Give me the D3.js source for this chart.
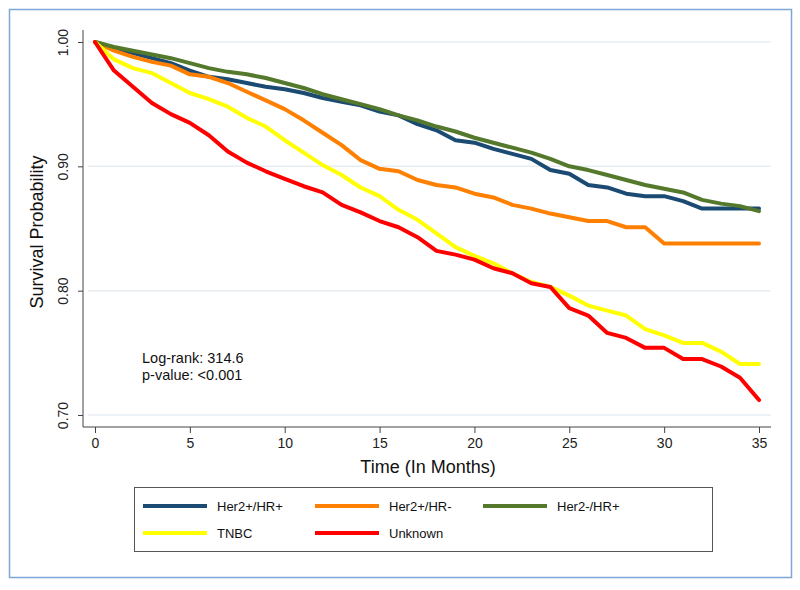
<!DOCTYPE html>
<html><head><meta charset="utf-8">
<script src="https://d3js.org/d3.v7.min.js"></script>
<style>body{margin:0;background:#fff;} svg{display:block;font-family:"Liberation Sans",Arial,sans-serif;}</style>
</head><body>
<svg id="chart" width="800" height="590"></svg>
<script>
const months = d3.range(0, 36);
const seriesNames = ["Her2+/HR+", "Her2+/HR-", "Her2-/HR+", "TNBC", "Unknown"];
const seriesColors = ["#1b4a72", "#ff8000", "#55792c", "#ffff00", "#ff0000"];
const her2pHRp = [1.000,0.995,0.991,0.987,0.983,0.977,0.972,0.970,0.967,0.964,0.962,0.959,0.955,0.952,0.949,0.944,0.941,0.934,0.929,0.921,0.919,0.914,0.910,0.906,0.897,0.894,0.885,0.883,0.878,0.876,0.876,0.872,0.866,0.866,0.866,0.866];
const her2pHRn = [1.000,0.993,0.988,0.984,0.981,0.974,0.972,0.967,0.960,0.953,0.946,0.937,0.927,0.917,0.905,0.898,0.896,0.889,0.885,0.883,0.878,0.875,0.869,0.866,0.862,0.859,0.856,0.856,0.851,0.851,0.838,0.838,0.838,0.838,0.838,0.838];
const her2nHRp = [1.000,0.996,0.993,0.990,0.987,0.983,0.979,0.976,0.974,0.971,0.967,0.963,0.958,0.954,0.950,0.946,0.941,0.937,0.932,0.928,0.923,0.919,0.915,0.911,0.906,0.900,0.897,0.893,0.889,0.885,0.882,0.879,0.873,0.870,0.868,0.864];
const tnbc = [1.000,0.986,0.979,0.975,0.967,0.959,0.954,0.948,0.939,0.932,0.921,0.911,0.901,0.893,0.883,0.876,0.865,0.857,0.846,0.835,0.828,0.822,0.814,0.807,0.803,0.796,0.788,0.784,0.780,0.769,0.764,0.758,0.758,0.751,0.741,0.741];
const unknown = [1.000,0.977,0.964,0.951,0.942,0.935,0.925,0.912,0.903,0.896,0.890,0.884,0.879,0.869,0.863,0.856,0.851,0.843,0.832,0.829,0.825,0.818,0.814,0.806,0.803,0.786,0.780,0.766,0.762,0.754,0.754,0.745,0.745,0.739,0.730,0.712];
const seriesValues = [her2pHRp, her2pHRn, her2nHRp, tnbc, unknown];
const xTicks = [0, 5, 10, 15, 20, 25, 30, 35];
const yTicks = [0.70, 0.80, 0.90, 1.00];
const annotation = ["Log-rank: 314.6", "p-value: <0.001"];

const svg = d3.select("#chart");
// outer frame
svg.append("rect").attr("x", 9.5).attr("y", 9.5).attr("width", 782).attr("height", 568)
  .attr("fill", "#fff").attr("stroke", "#7fa6d6").attr("stroke-width", 1.5);

const x = d3.scaleLinear().domain([0, 35]).range([95, 759]);
const y = d3.scaleLinear().domain([0.70, 1.00]).range([415, 42]);

// gridlines
svg.append("g").selectAll("line").data(yTicks).join("line")
  .attr("x1", 88).attr("x2", 771).attr("y1", d => y(d)).attr("y2", d => y(d))
  .attr("stroke", "#e6eef4").attr("stroke-width", 1.5);

// y axis
const yAxis = svg.append("g").attr("transform", "translate(83,0)")
  .call(d3.axisLeft(y).tickValues(yTicks).tickFormat(d3.format(".2f")).tickSize(5).tickSizeOuter(0));
yAxis.select(".domain").attr("d", "M0,30V427").attr("stroke", "#444");
yAxis.selectAll(".tick line").attr("stroke", "#444");
yAxis.selectAll(".tick text").attr("font-size", 14).attr("fill", "#222")
  .attr("text-anchor", "middle").attr("x", 0).attr("dy", 0)
  .attr("transform", "translate(-20,0) rotate(-90)").attr("y", 0).attr("dominant-baseline", "central");

// x axis
const xAxis = svg.append("g").attr("transform", "translate(0,427)")
  .call(d3.axisBottom(x).tickValues(xTicks).tickSize(6).tickSizeOuter(0));
xAxis.select(".domain").attr("d", "M83,0H771").attr("stroke", "#444");
xAxis.selectAll(".tick line").attr("stroke", "#444");
xAxis.selectAll(".tick text").attr("font-size", 14).attr("fill", "#222").attr("y", 11);

// axis titles
svg.append("text").attr("x", 428).attr("y", 473).attr("text-anchor", "middle")
  .attr("font-size", 18).attr("fill", "#111").text("Time (In Months)");
svg.append("text").attr("transform", "translate(43,232) rotate(-90)").attr("text-anchor", "middle")
  .attr("font-size", 18).attr("fill", "#111").text("Survival Probability");

// lines
const line = d3.line().x((d, i) => x(months[i])).y(d => y(d));
svg.append("g").selectAll("path").data(seriesValues).join("path")
  .attr("d", d => line(d)).attr("fill", "none")
  .attr("stroke", (d, i) => seriesColors[i]).attr("stroke-width", 4)
  .attr("stroke-linejoin", "round").attr("stroke-linecap", "round");

// annotation
svg.append("g").selectAll("text").data(annotation).join("text")
  .attr("x", 142).attr("y", (d, i) => 363 + i * 17).attr("font-size", 14.5).attr("fill", "#111").text(d => d);

// legend
svg.append("rect").attr("x", 134.5).attr("y", 487.5).attr("width", 578).attr("height", 64)
  .attr("fill", "#fff").attr("stroke", "#555").attr("stroke-width", 1);
const colX = [143, 315, 483];
const rowY = [506, 533];
const lg = svg.append("g").selectAll("g").data(seriesNames).join("g")
  .attr("transform", (d, i) => `translate(${colX[i % 3]},${rowY[Math.floor(i / 3)]})`);
lg.append("line").attr("x1", 0).attr("x2", 64).attr("y1", 0).attr("y2", 0)
  .attr("stroke", (d, i) => seriesColors[i]).attr("stroke-width", 4);
lg.append("text").attr("x", 74).attr("y", 0).attr("dy", "0.35em").attr("font-size", 13).attr("fill", "#111").text(d => d);
</script>
</body></html>
